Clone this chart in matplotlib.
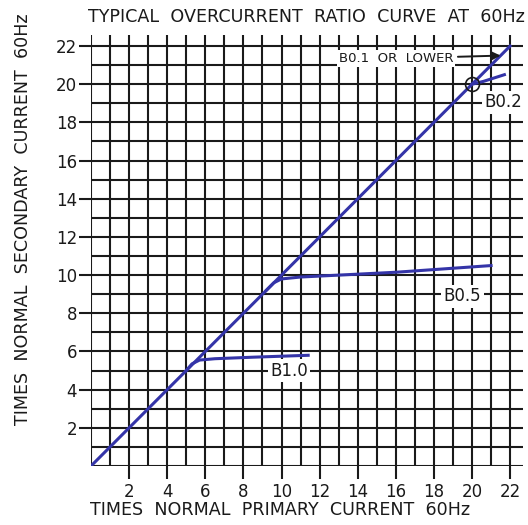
import numpy as np
import matplotlib
matplotlib.use("Agg")
import matplotlib.pyplot as plt

plt.rcParams['font.family'] = ['DejaVu Sans']

# curve data
diag_x = [0, 22]
diag_y = [0, 22]
b10_x = [5.0, 5.3, 5.7, 6.5, 8.5, 11.4]
b10_y = [5.0, 5.35, 5.55, 5.62, 5.7, 5.8]
b05_x = [9.2, 9.6, 10.0, 11.0, 13.0, 16.0, 21.0]
b05_y = [9.2, 9.6, 9.8, 9.9, 10.0, 10.15, 10.5]
b02_x = [20.0, 20.6, 21.7]
b02_y = [20.0, 20.15, 20.5]
circle_pt = (20.0, 20.0)
ticks = np.arange(2, 23, 2)
grid_vals = np.arange(0, 23)

blue = '#3434a8'
ink = '#1a1a1a'

fig = plt.figure(figsize=(5.28, 5.25), dpi=100)
ax = fig.add_axes([91/528, 59/525, 431.5/528, 431.4/525])
ax.set_xlim(0, 22.65)
ax.set_ylim(0, 22.6)
for s in ax.spines.values():
    s.set_visible(False)

# grid runs a bit past 22 at the top and right
ax.vlines(grid_vals, 0, 22.58, colors=ink, lw=1.5, zorder=1)
ax.hlines(grid_vals, 0, 22.65, colors=ink, lw=1.5, zorder=1)

ax.plot(diag_x, diag_y, color=blue, lw=2.2, zorder=3)
ax.plot(b10_x, b10_y, color=blue, lw=2.2, zorder=3)
ax.plot(b05_x, b05_y, color=blue, lw=2.2, zorder=3)
ax.plot(b02_x, b02_y, color=blue, lw=2.2, zorder=3)
ax.plot(*circle_pt, marker='o', ms=10, mfc='none', mec=ink, mew=1.2, zorder=4)

ax.set_xticks(ticks)
ax.set_yticks(ticks)
ax.tick_params(direction='out', length=9, width=1.5, color=ink,
               labelsize=12, labelcolor=ink)
ax.tick_params(axis='x', pad=3)
ax.tick_params(axis='y', pad=1)

box = dict(boxstyle='square,pad=0.15', fc='white', ec='none')
ax.annotate('B0.1  OR  LOWER', xy=(21.5, 21.5), xytext=(13.0, 21.35),
            fontsize=9.5, color=ink, va='center', ha='left', bbox=box,
            arrowprops=dict(arrowstyle='-|>', color=ink, lw=1.4,
                            shrinkA=2, shrinkB=0, mutation_scale=12),
            zorder=5)
ax.text(20.65, 19.05, 'B0.2', fontsize=12, color=ink, va='center', bbox=box, zorder=5)
ax.text(18.5, 8.9, 'B0.5', fontsize=12, color=ink, va='center', bbox=box, zorder=5)
ax.text(9.4, 5.0, 'B1.0', fontsize=12, color=ink, va='center', bbox=box, zorder=5)

fig.text(88/528, 1 - 17/525, 'TYPICAL  OVERCURRENT  RATIO  CURVE  AT  60Hz',
         fontsize=12.6, color=ink, ha='left', va='center')
fig.text(90/528, 1 - 510/525, 'TIMES  NORMAL  PRIMARY  CURRENT  60Hz',
         fontsize=12.6, color=ink, ha='left', va='center')
fig.text(23/528, 1 - 425/525, 'TIMES  NORMAL  SECONDARY  CURRENT  60Hz',
         fontsize=12.6, color=ink, ha='center', va='bottom', rotation=90)

fig.savefig('out.png', dpi=100, facecolor='white')
